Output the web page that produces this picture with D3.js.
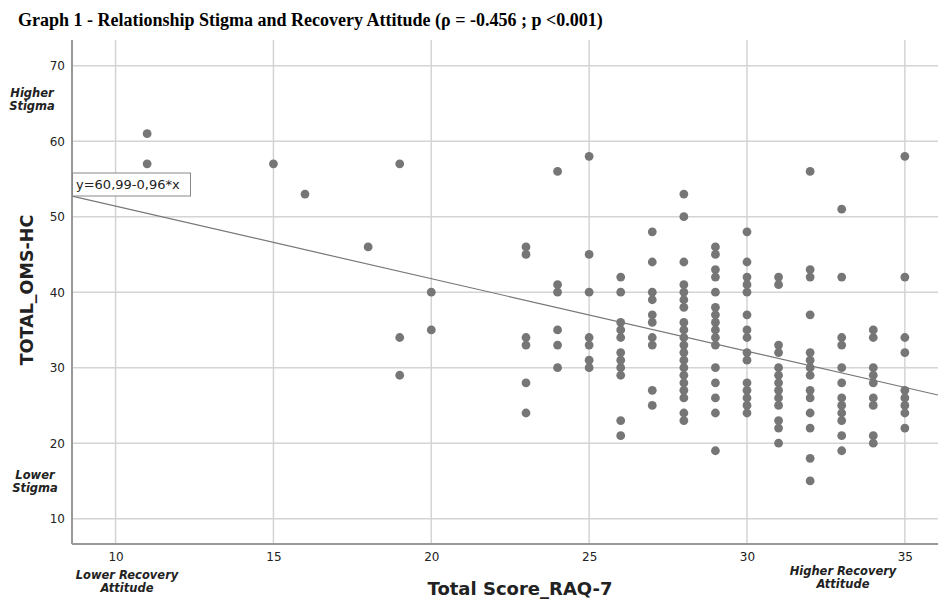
<!DOCTYPE html>
<html>
<head>
<meta charset="utf-8">
<script src="https://cdn.jsdelivr.net/npm/d3@7"></script>
<style>
  body { margin: 0; background: #fff; }
  svg { display: block; }
  .tick text { font-family: "DejaVu Sans", sans-serif; font-size: 12px; fill: #222; }
</style>
</head>
<body>
<svg id="chart" width="938" height="600"></svg>
<script>
// data : total RAQ-7 score (x) and the OMS-HC totals seen at that score
var raqScores = [11, 15, 16, 18, 19, 20, 23, 24, 25, 26, 27, 28, 29, 30, 31, 32, 33, 34, 35];
var omsTotals = [
    [61, 57],
    [57],
    [53],
    [46],
    [57, 34, 29],
    [40, 35],
    [46, 45, 34, 33, 28, 24],
    [56, 41, 40, 35, 33, 30],
    [58, 45, 40, 34, 33, 31, 30],
    [42, 40, 36, 35, 34, 32, 31, 30, 29, 23, 21],
    [48, 44, 40, 39, 37, 36, 34, 33, 27, 25],
    [53, 50, 44, 41, 40, 39, 38, 36, 35, 34, 33, 32, 31, 30, 29, 28, 27, 26, 24, 23],
    [46, 45, 43, 42, 40, 38, 37, 36, 35, 34, 33, 30, 28, 26, 24, 19],
    [48, 44, 42, 41, 40, 37, 35, 34, 32, 31, 28, 27, 26, 25, 24],
    [42, 41, 33, 32, 30, 29, 28, 27, 26, 25, 23, 22, 20],
    [56, 43, 42, 37, 32, 31, 30, 29, 27, 26, 24, 22, 18, 15],
    [51, 42, 34, 33, 30, 28, 26, 25, 24, 23, 21, 19],
    [35, 34, 30, 29, 28, 26, 25, 21, 20],
    [58, 42, 34, 32, 27, 26, 25, 24, 22]
];
var xTicks = [10, 15, 20, 25, 30, 35];
var yTicks = [10, 20, 30, 40, 50, 60, 70];
var fitIntercept = 60.99, fitSlope = -0.96;
var fitLabel = "y=60,99-0,96*x";

var titre = "Graph 1 - Relationship Stigma and Recovery Attitude (\u03C1 = -0.456 ; p <0.001)";

var svg = d3.select("#chart");
// cadre du graphe (pas de "top" : window.top est en lecture seule)
var pLeft = 72, pRight = 938, pTop = 40, pBottom = 544;

var x = d3.scaleLinear().domain([8.62, 36.05]).range([pLeft, pRight]);
var y = d3.scaleLinear().domain([6.65, 73.4]).range([pBottom, pTop]);

// liste des points
var pts = [];
for (var ii = 0; ii < raqScores.length; ii++)
    for (var jj = 0; jj < omsTotals[ii].length; jj++)
	pts.push({x: raqScores[ii], y: omsTotals[ii][jj]});

svg.append("defs").append("clipPath").attr("id", "zone")
    .append("rect").attr("x", pLeft).attr("y", pTop)
    .attr("width", pRight - pLeft).attr("height", pBottom - pTop);

// grille
svg.append("g").selectAll("line").data(yTicks).enter().append("line")
    .attr("x1", pLeft).attr("x2", pRight)
    .attr("y1", function(d) { return y(d); }).attr("y2", function(d) { return y(d); })
    .style("stroke", "#d4d4d4").style("stroke-width", 1.5);
svg.append("g").selectAll("line").data(xTicks).enter().append("line")
    .attr("y1", pTop).attr("y2", pBottom)
    .attr("x1", function(d) { return x(d); }).attr("x2", function(d) { return x(d); })
    .style("stroke", "#d4d4d4").style("stroke-width", 1.5);

// axes
var gx = svg.append("g").attr("transform", "translate(0," + pBottom + ")")
    .call(d3.axisBottom(x).tickValues(xTicks).tickSize(0).tickPadding(8));
var gy = svg.append("g").attr("transform", "translate(" + pLeft + ",0)")
    .call(d3.axisLeft(y).tickValues(yTicks).tickSize(0).tickPadding(7));
gx.select(".domain").remove();
gy.select(".domain").remove();
svg.append("line").attr("x1", pLeft).attr("x2", pRight).attr("y1", pBottom).attr("y2", pBottom)
    .style("stroke", "#999").style("stroke-width", 2);
svg.append("line").attr("x1", pLeft).attr("x2", pLeft).attr("y1", pTop).attr("y2", pBottom)
    .style("stroke", "#999").style("stroke-width", 2);

// droite de regression
svg.append("line").attr("clip-path", "url(#zone)")
    .attr("x1", x(x.domain()[0])).attr("y1", y(fitIntercept + fitSlope * x.domain()[0]))
    .attr("x2", x(x.domain()[1])).attr("y2", y(fitIntercept + fitSlope * x.domain()[1]))
    .style("stroke", "#777").style("stroke-width", 1.2);

// points
svg.append("g").selectAll("circle").data(pts).enter().append("circle")
    .attr("cx", function(d) { return x(d.x); })
    .attr("cy", function(d) { return y(d.y); })
    .attr("r", 4.4)
    .style("fill", "#767676");

// etiquette equation
var lab = svg.append("g");
lab.append("rect").attr("x", pLeft + 0.5).attr("y", 173).attr("width", 118).attr("height", 23)
    .style("fill", "#fff").style("stroke", "#888").style("stroke-width", 1);
lab.append("text").attr("x", pLeft + 4).attr("y", 189)
    .style("font-family", "DejaVu Sans, sans-serif").style("font-size", "13px").style("fill", "#222")
    .text(fitLabel);

// titres
svg.append("text").attr("x", 18).attr("y", 26)
    .style("font-family", "Liberation Serif, serif").style("font-weight", "bold").style("font-size", "18px")
    .text(titre);

svg.append("text").attr("x", 520).attr("y", 595).attr("text-anchor", "middle")
    .style("font-family", "DejaVu Sans, sans-serif").style("font-weight", "bold").style("font-size", "18px")
    .style("fill", "#222")
    .text("Total Score_RAQ-7");

svg.append("text").attr("transform", "translate(33,290) rotate(-90)").attr("text-anchor", "middle")
    .style("font-family", "DejaVu Sans, sans-serif").style("font-weight", "bold").style("font-size", "17.5px")
    .style("fill", "#222")
    .text("TOTAL_OMS-HC");

// annotations en italique
function note(lignes, cx, cy) {
    var t = svg.append("text").attr("text-anchor", "middle")
	.style("font-family", "DejaVu Sans, sans-serif").style("font-weight", "bold")
	.style("font-style", "italic").style("font-size", "11.5px").style("fill", "#222");
    lignes.forEach(function(l, i) {
	t.append("tspan").attr("x", cx).attr("y", cy + i * 13).text(l);
    });
}
note(["Higher", "Stigma"], 32, 97);
note(["Lower", "Stigma"], 35, 479);
note(["Lower Recovery", "Attitude"], 127, 579);
note(["Higher Recovery", "Attitude"], 843, 575);
</script>
</body>
</html>
